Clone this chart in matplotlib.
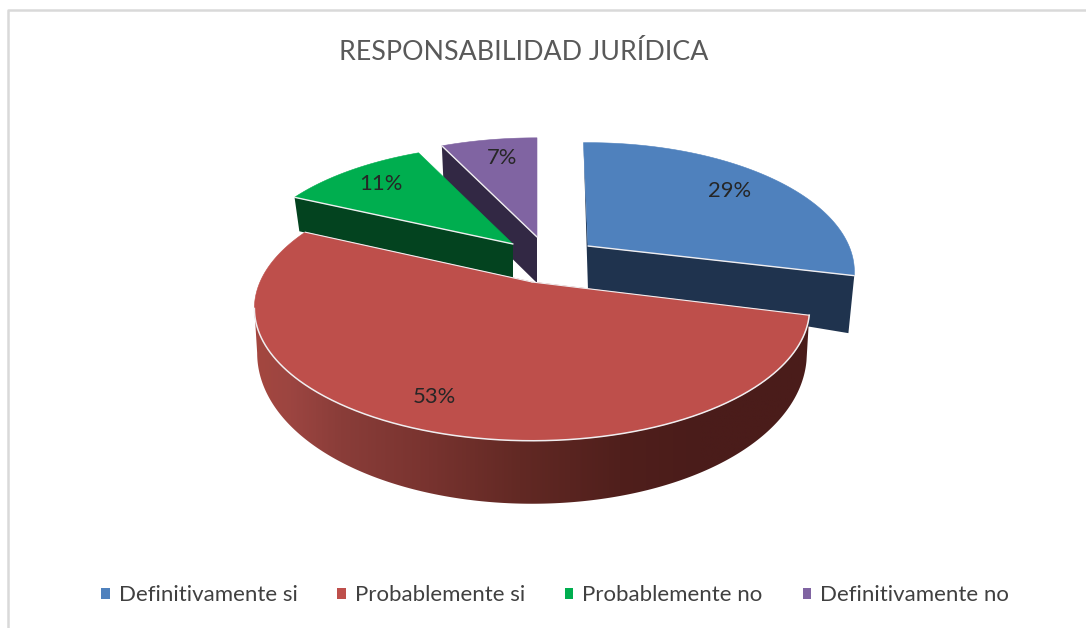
import matplotlib
matplotlib.use("Agg")
import matplotlib.pyplot as plt
from matplotlib.colors import LinearSegmentedColormap
from matplotlib.patches import Patch, Polygon
import numpy as np

plt.rcParams['font.family'] = ['Lato', 'DejaVu Sans']

title = "RESPONSABILIDAD JURÍDICA"
categories = ["Definitivamente si", "Probablemente si", "Probablemente no", "Definitivamente no"]
values = [29, 53, 11, 7]

top_colors = ["#4F81BD", "#BE4F4B", "#00AE4F", "#8064A2"]
wall_colors = ["#1F334E", "#7A2F2C", "#03431F", "#322844"]

# where each exploded slice sits on the page (pixels) and how big it is
apex_x = [588, 532, 513, 537]
apex_y = [246, 282, 244, 237]
rad_x = [261, 272, 262, 264]
rad_y = [124, 127, 119, 119]
turn = [-1.2, 0, 0, 0]
depth0 = [44, 40, 34, 46]
depth1 = [59, 23, 0, 0]
squeeze = [0.978, 0.99, 0.978, 0.978]
label_r = [0.75, 0.8, 0.75, 0.75]
label_dx = [3, -11, -7, 3]
label_dy = [-2, 2, -3, -3]

persp = 0.2
rim = "#F0EEF0"

# red wall shading from left to right
wall_x = [250, 290, 340, 420, 520, 620, 700, 810]
wall_rgb = ["#A5473F", "#9C4541", "#8A3D39", "#7A3430", "#622924", "#501F1C", "#4A1C1A", "#4A1C1A"]


def project(i, theta, r=1.0):
    theta = theta + np.deg2rad(turn[i])
    x = r * np.sin(theta)
    y = r * np.cos(theta)
    w = 1 + persp * y
    return apex_x[i] + rad_x[i] * x / w, apex_y[i] - rad_y[i] * y / w


def lower(i, theta, r=1.0):
    px, py = project(i, theta, r)
    d = depth0[i] - depth1[i] * r * np.cos(theta + np.deg2rad(turn[i]))
    return apex_x[i] + (px - apex_x[i]) * squeeze[i], py + np.maximum(d, 2)


def cut_face(ax, i, theta):
    ts = np.array([0.0, 1.0])
    tx, ty = project(i, theta, ts)
    bx, by = lower(i, theta, ts)
    ax.fill([tx[0], tx[1], bx[1], bx[0]], [ty[0], ty[1], by[1], by[0]],
            color=wall_colors[i], lw=0)


def top_face(ax, i, start, end):
    th = np.linspace(start, end, 200)
    px, py = project(i, th)
    xs = np.concatenate([[apex_x[i]], px])
    ys = np.concatenate([[apex_y[i]], py])
    ax.fill(xs, ys, facecolor=top_colors[i], edgecolor=top_colors[i], lw=0.4)


def spoke(ax, i, theta):
    ts = np.array([0.0, 1.0])
    tx, ty = project(i, theta, ts)
    ax.plot(tx, ty, color=rim, lw=1.0, solid_capstyle="round")


def round_wall(ax, i, start, end):
    th = np.linspace(start, end, 400)
    tx, ty = project(i, th)
    bx, by = lower(i, th)
    outline = np.column_stack([np.concatenate([tx, bx[::-1]]), np.concatenate([ty, by[::-1]])])
    shade = LinearSegmentedColormap.from_list(
        "wall", [((v - wall_x[0]) / (wall_x[-1] - wall_x[0]), c) for v, c in zip(wall_x, wall_rgb)])
    im = ax.imshow(np.linspace(0, 1, 256)[None, :], cmap=shade, aspect="auto",
                   extent=(wall_x[0], wall_x[-1], 520, 280), zorder=2)
    im.set_clip_path(Polygon(outline, transform=ax.transData))
    ax.plot(tx, ty, color=rim, lw=1.1, zorder=4)


fig = plt.figure(figsize=(10.86, 6.28), dpi=100)
ax = fig.add_axes([0, 0, 1, 1])

# frame of the pasted chart, only top and left show
ax.plot([1086, 7.5, 7.5], [9.5, 9.5, 628], color="#D9D9D9", lw=1.8)

fracs = np.array(values) / sum(values)
edges = np.concatenate([[0], np.cumsum(fracs)]) * 2 * np.pi

# back to front
cut_face(ax, 0, edges[0])
cut_face(ax, 0, edges[1])
top_face(ax, 0, edges[0], edges[1])
spoke(ax, 0, edges[1])
cut_face(ax, 3, edges[3])
top_face(ax, 3, edges[3], edges[4])
spoke(ax, 3, edges[3])
cut_face(ax, 2, edges[2])
top_face(ax, 2, edges[2], edges[3])
spoke(ax, 2, edges[2])
for art in list(ax.lines) + list(ax.patches):
    art.set_zorder(1)

# the round wall stops at the leftmost point of the rim
left_end = 2 * np.pi - np.arccos(-persp)
round_wall(ax, 1, edges[1], min(edges[2], left_end))
th = np.linspace(edges[1], edges[2], 300)
px, py = project(1, th)
ax.fill(np.concatenate([[apex_x[1]], px]), np.concatenate([[apex_y[1]], py]),
        facecolor=top_colors[1], edgecolor=top_colors[1], lw=0.4, zorder=3)
spx, spy = project(1, edges[2], np.array([0.0, 1.0]))
ax.plot(spx, spy, color=rim, lw=0.8, zorder=4)
epx, epy = project(1, edges[1], np.array([0.0, 1.0]))
ax.plot(epx, epy, color=rim, lw=0.8, zorder=4)

for i, v in enumerate(values):
    mid = (edges[i] + edges[i + 1]) / 2
    lx, ly = project(i, mid, label_r[i])
    ax.text(lx + label_dx[i], ly + label_dy[i], f"{v}%", ha="center", va="center",
            fontsize=15.8, color="#262626", zorder=5)

ax.text(524, 53, title, ha="center", va="center", fontsize=19.3, color="#595959")

handles = [Patch(facecolor=c, edgecolor="none") for c in top_colors]
ax.legend(handles, categories, ncol=4, loc="center", bbox_to_anchor=(555 / 1086, 1 - 595 / 628),
          frameon=False, fontsize=16, labelcolor="#404040", handlelength=0.38, handleheight=0.38,
          handletextpad=0.4, columnspacing=1.8)

ax.set_xlim(0, 1086)
ax.set_ylim(628, 0)
ax.axis("off")

fig.savefig("out.png", dpi=100)
